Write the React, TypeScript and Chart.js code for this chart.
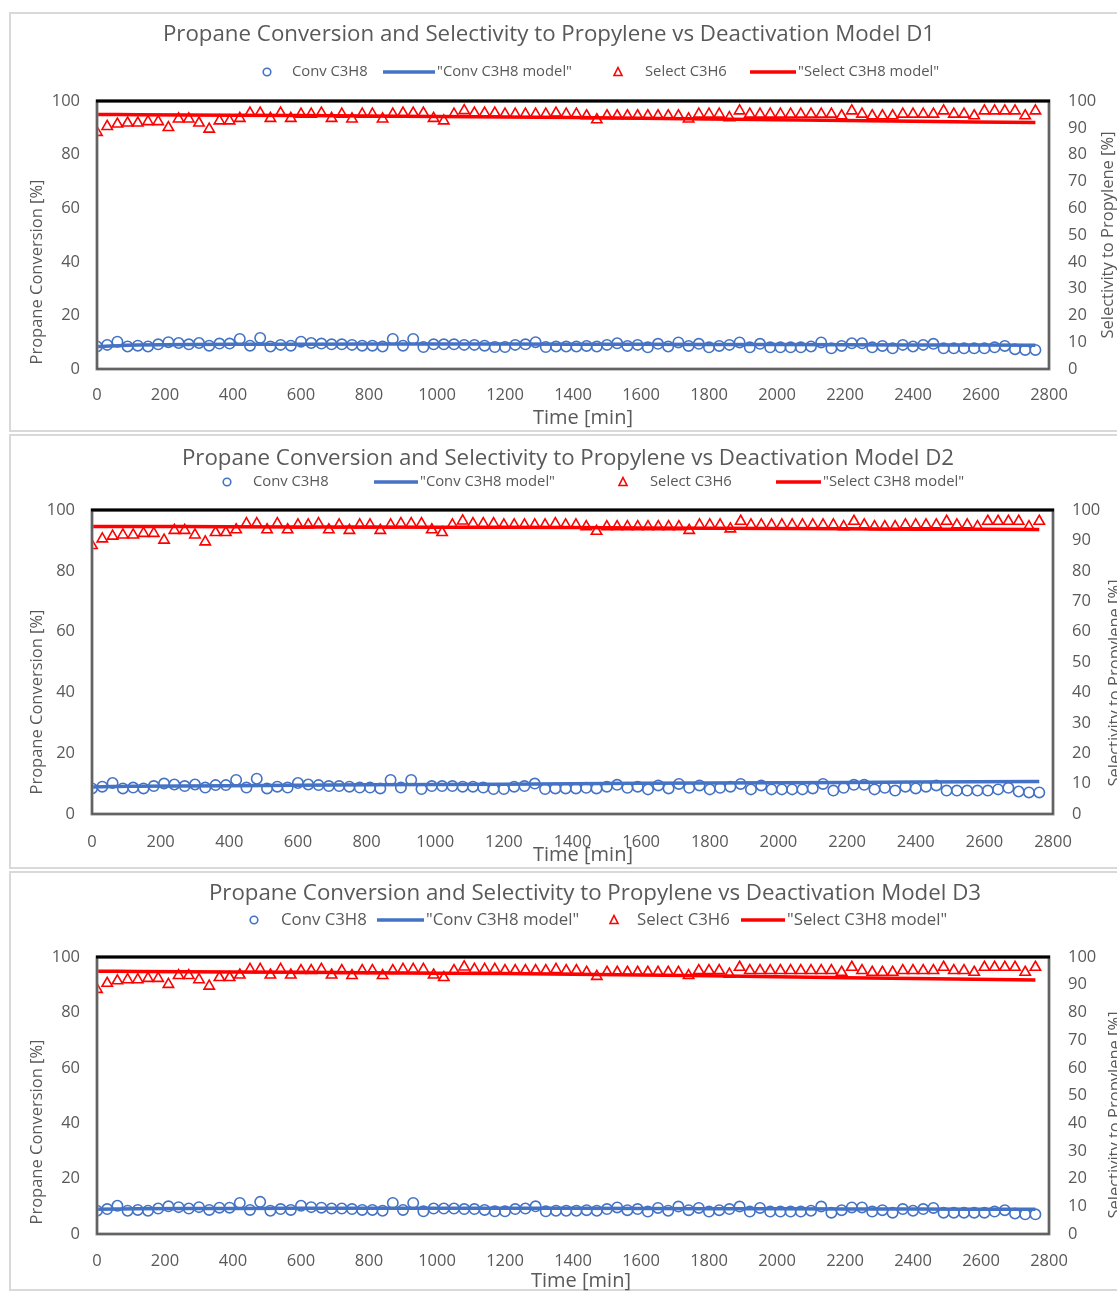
import React, { useEffect, useRef } from "react";
import { Chart, registerables } from "chart.js";

Chart.register(...registerables);

// ---------- DATA ----------
const timeMin = [
  0, 30, 60, 90, 120, 150, 180, 210, 240, 270, 300, 330, 360, 390, 420, 450, 480, 510, 540, 570,
  600, 630, 660, 690, 720, 750, 780, 810, 840, 870, 900, 930, 960, 990, 1020, 1050, 1080, 1110, 1140, 1170,
  1200, 1230, 1260, 1290, 1320, 1350, 1380, 1410, 1440, 1470, 1500, 1530, 1560, 1590, 1620, 1650, 1680, 1710, 1740, 1770,
  1800, 1830, 1860, 1890, 1920, 1950, 1980, 2010, 2040, 2070, 2100, 2130, 2160, 2190, 2220, 2250, 2280, 2310, 2340, 2370,
  2400, 2430, 2460, 2490, 2520, 2550, 2580, 2610, 2640, 2670, 2700, 2730, 2760,
];

const convC3H8 = [
  8.4, 9.0, 10.2, 8.4, 8.7, 8.4, 9.2, 10.0, 9.7, 9.2, 9.7, 8.7, 9.5, 9.5, 11.2, 8.7, 11.6, 8.4, 9.0, 8.7,
  10.2, 9.7, 9.5, 9.2, 9.2, 9.0, 8.7, 8.7, 8.4, 11.2, 8.7, 11.2, 8.2, 9.2, 9.2, 9.2, 9.0, 9.0, 8.7, 8.2,
  8.2, 9.0, 9.2, 10.0, 8.2, 8.4, 8.4, 8.4, 8.6, 8.4, 9.0, 9.6, 8.6, 9.0, 8.1, 9.4, 8.4, 9.9, 8.6, 9.4,
  8.1, 8.6, 9.0, 9.9, 8.1, 9.4, 8.1, 8.1, 8.1, 8.1, 8.4, 9.9, 7.7, 8.6, 9.6, 9.6, 8.1, 8.6, 7.7, 9.0,
  8.4, 9.0, 9.4, 7.7, 7.7, 7.7, 7.7, 7.7, 8.1, 8.6, 7.4, 7.1, 7.1,
];

const selectC3H6 = [
  88.3, 90.5, 91.4, 91.8, 91.8, 92.3, 92.3, 90.1, 93.3, 93.3, 91.8, 89.5, 92.6, 92.6, 93.5, 95.5, 95.5, 93.5, 95.5, 93.5,
  95.1, 95.1, 95.5, 93.5, 95.1, 93.3, 95.1, 95.1, 93.3, 95.1, 95.5, 95.5, 95.5, 93.5, 92.6, 95.1, 96.4, 95.5, 95.5, 95.5,
  95.1, 95.1, 95.1, 95.1, 95.1, 95.5, 95.1, 95.1, 94.5, 93.0, 94.5, 94.5, 94.5, 94.5, 94.5, 94.5, 94.5, 94.5, 93.3, 95.1,
  95.1, 95.1, 93.8, 96.3, 95.1, 95.1, 95.1, 95.1, 95.1, 95.1, 95.1, 95.1, 95.1, 94.5, 96.3, 95.1, 94.5, 94.5, 94.5, 95.1,
  95.1, 95.1, 95.1, 96.3, 95.1, 95.1, 94.5, 96.3, 96.3, 96.3, 96.3, 94.5, 96.3,
];

const modelTime = [0, 120, 400, 800, 1200, 1600, 2000, 2400, 2760];

const convModelD1 = [8.4, 9.0, 9.2, 9.3, 9.3, 9.2, 9.1, 9.0, 8.9];
const selectModelD1 = [95.0, 94.9, 94.7, 94.4, 94.0, 93.6, 93.0, 92.4, 92.0];

const convModelD2 = [8.9, 9.1, 9.3, 9.6, 9.8, 10.1, 10.3, 10.5, 10.7];
const selectModelD2 = [94.6, 94.6, 94.5, 94.4, 94.3, 94.1, 93.9, 93.7, 93.6];

const convModelD3 = [8.9, 9.1, 9.2, 9.3, 9.3, 9.2, 9.1, 9.0, 8.9];
const selectModelD3 = [94.9, 94.8, 94.6, 94.3, 94.0, 93.5, 92.9, 92.2, 91.7];

const chartTitles = [
  "Propane Conversion and Selectivity to Propylene vs Deactivation Model D1",
  "Propane Conversion and Selectivity to Propylene vs Deactivation Model D2",
  "Propane Conversion and Selectivity to Propylene vs Deactivation Model D3",
];

const legendLabels = ["Conv C3H8", '"Conv C3H8 model"', "Select C3H6", '"Select C3H8 model"'];
const xAxisTitle = "Time [min]";
const leftAxisTitle = "Propane Conversion [%]";
const rightAxisTitle = "Selectivity to Propylene [%]";

// ---------- STYLE / LAYOUT ----------
const BLUE = "#4472C4";
const RED = "#FF0000";
const TEXT = "#595959";
const FONT = "'Open Sans', 'DejaVu Sans', sans-serif";
const W = 1117;

type PanelCfg = {
  top: number;
  height: number;
  plot: { left: number; right: number; top: number; bottom: number };
  title: { x: number; y: number; size: number };
  legend: { y: number; size: number; circleX: number; convText: number; convLine: [number, number]; triX: number; selText: number; selLine: [number, number] };
  leftTitle: { x: number; y: number };
  rightTitle: { x: number; y: number };
  xTitle: { x: number; y: number };
  xTickPad: number;
};

const PANELS: PanelCfg[] = [
  {
    top: 13, height: 420,
    plot: { left: 97, right: 1049, top: 101, bottom: 369 },
    title: { x: 549, y: 35, size: 22.3 },
    legend: { y: 72, size: 14.8, circleX: 267, convText: 292, convLine: [383, 435], triX: 618, selText: 645, selLine: [750, 796] },
    leftTitle: { x: 37, y: 272 },
    rightTitle: { x: 1108, y: 235 },
    xTitle: { x: 583, y: 418 },
    xTickPad: 16,
  },
  {
    top: 435, height: 435,
    plot: { left: 92, right: 1053, top: 510, bottom: 814 },
    title: { x: 568, y: 459, size: 22.3 },
    legend: { y: 482, size: 14.8, circleX: 227, convText: 253, convLine: [374, 418], triX: 623, selText: 650, selLine: [776, 821] },
    leftTitle: { x: 37, y: 702 },
    rightTitle: { x: 1115, y: 683 },
    xTitle: { x: 583, y: 855 },
    xTickPad: 18,
  },
  {
    top: 872, height: 420,
    plot: { left: 97, right: 1049, top: 957, bottom: 1234 },
    title: { x: 595, y: 894, size: 22.3 },
    legend: { y: 920, size: 16.8, circleX: 254, convText: 281, convLine: [377, 424], triX: 614, selText: 637, selLine: [741, 785] },
    leftTitle: { x: 37, y: 1132 },
    rightTitle: { x: 1115, y: 1115 },
    xTitle: { x: 581, y: 1281 },
    xTickPad: 17,
  },
];

function makeDecorPlugin(cfg: PanelCfg, title: string) {
  const oy = (y: number) => y - cfg.top;
  return {
    id: "decor",
    afterDraw(chart: any) {
      const ctx: CanvasRenderingContext2D = chart.ctx;
      const { left, right, top, bottom } = chart.chartArea;
      ctx.save();
      // plot frame
      ctx.strokeStyle = "#8c8c8c";
      ctx.lineWidth = 3;
      ctx.strokeRect(left, top, right - left, bottom - top);
      ctx.strokeStyle = "#3a3a3a";
      ctx.lineWidth = 1;
      ctx.strokeRect(left, top, right - left, bottom - top);
      ctx.strokeStyle = "#000000";
      ctx.lineWidth = 3;
      ctx.beginPath();
      ctx.moveTo(left - 1, top);
      ctx.lineTo(right + 1, top);
      ctx.stroke();

      // title
      ctx.fillStyle = TEXT;
      ctx.textAlign = "center";
      ctx.textBaseline = "middle";
      ctx.font = `${cfg.title.size}px ${FONT}`;
      ctx.fillText(title, cfg.title.x, oy(cfg.title.y));

      // legend
      const lg = cfg.legend;
      const ly = oy(lg.y);
      ctx.font = `${lg.size}px ${FONT}`;
      ctx.textAlign = "left";
      ctx.lineWidth = 1.6;
      ctx.strokeStyle = BLUE;
      ctx.beginPath();
      ctx.arc(lg.circleX, ly, 3.8, 0, Math.PI * 2);
      ctx.stroke();
      ctx.fillText(legendLabels[0], lg.convText, ly);
      ctx.lineWidth = 3.5;
      ctx.beginPath();
      ctx.moveTo(lg.convLine[0], ly);
      ctx.lineTo(lg.convLine[1], ly);
      ctx.stroke();
      ctx.fillText(legendLabels[1], lg.convLine[1] + 2, ly);
      ctx.strokeStyle = RED;
      ctx.lineWidth = 1.6;
      ctx.beginPath();
      ctx.moveTo(lg.triX, ly - 4.5);
      ctx.lineTo(lg.triX + 4, ly + 3.5);
      ctx.lineTo(lg.triX - 4, ly + 3.5);
      ctx.closePath();
      ctx.stroke();
      ctx.fillText(legendLabels[2], lg.selText, ly);
      ctx.lineWidth = 3.5;
      ctx.beginPath();
      ctx.moveTo(lg.selLine[0], ly);
      ctx.lineTo(lg.selLine[1], ly);
      ctx.stroke();
      ctx.fillText(legendLabels[3], lg.selLine[1] + 2, ly);

      // axis titles
      ctx.textAlign = "center";
      ctx.font = `20px ${FONT}`;
      ctx.fillText(xAxisTitle, cfg.xTitle.x, oy(cfg.xTitle.y));
      ctx.font = `16.5px ${FONT}`;
      ctx.save();
      ctx.translate(cfg.leftTitle.x, oy(cfg.leftTitle.y));
      ctx.rotate(-Math.PI / 2);
      ctx.fillText(leftAxisTitle, 0, 0);
      ctx.restore();
      ctx.save();
      ctx.translate(cfg.rightTitle.x, oy(cfg.rightTitle.y));
      ctx.rotate(-Math.PI / 2);
      ctx.fillText(rightAxisTitle, 0, 0);
      ctx.restore();
      ctx.restore();
    },
  };
}

function PanelChart({ cfg, title, convModel, selectModel }: { cfg: PanelCfg; title: string; convModel: number[]; selectModel: number[] }) {
  const ref = useRef<HTMLCanvasElement | null>(null);
  useEffect(() => {
    if (!ref.current) return;
    const convPts = timeMin.map((t, i) => ({ x: t, y: convC3H8[i] }));
    const selPts = timeMin.map((t, i) => ({ x: t, y: selectC3H6[i] }));
    const convModelPts = modelTime.map((t, i) => ({ x: t, y: convModel[i] }));
    const selModelPts = modelTime.map((t, i) => ({ x: t, y: selectModel[i] }));
    const tickFont = { family: FONT, size: 16.5 };
    const plain = (v: any) => String(v);
    const chart = new Chart(ref.current, {
      type: "scatter",
      data: {
        datasets: [
          { type: "line", label: legendLabels[3], data: selModelPts, yAxisID: "y2", borderColor: RED, borderWidth: 3.5, pointRadius: 0, showLine: true, fill: false, tension: 0.3 } as any,
          { type: "line", label: legendLabels[1], data: convModelPts, yAxisID: "y", borderColor: BLUE, borderWidth: 3.5, pointRadius: 0, showLine: true, fill: false, tension: 0.3 } as any,
          { label: legendLabels[2], data: selPts, yAxisID: "y2", pointStyle: "triangle", pointRadius: 6, borderColor: RED, backgroundColor: "rgba(0,0,0,0)", borderWidth: 1.6 },
          { label: legendLabels[0], data: convPts, yAxisID: "y", pointStyle: "circle", pointRadius: 5.2, borderColor: BLUE, backgroundColor: "rgba(0,0,0,0)", borderWidth: 1.6 },
        ],
      },
      options: {
        responsive: false,
        animation: false,
        devicePixelRatio: 1,
        layout: { padding: { top: cfg.plot.top - cfg.top, left: 0, right: 0, bottom: 0 } },
        plugins: { legend: { display: false }, title: { display: false }, tooltip: { enabled: false } },
        scales: {
          x: {
            type: "linear", min: 0, max: 2800,
            grid: { display: false, drawTicks: false },
            border: { display: false },
            ticks: { stepSize: 200, autoSkip: false, maxRotation: 0, color: TEXT, font: tickFont, padding: cfg.xTickPad, callback: plain },
            afterFit: (s: any) => { s.height = cfg.height - (cfg.plot.bottom - cfg.top); },
          },
          y: {
            position: "left", min: 0, max: 100,
            grid: { display: false, drawTicks: false },
            border: { display: false },
            ticks: { stepSize: 20, color: TEXT, font: tickFont, padding: 17, callback: plain },
            afterFit: (s: any) => { s.width = cfg.plot.left; },
          },
          y2: {
            position: "right", min: 0, max: 100,
            grid: { display: false, drawTicks: false },
            border: { display: false },
            ticks: { stepSize: 10, color: TEXT, font: tickFont, padding: 19, callback: plain },
            afterFit: (s: any) => { s.width = W - cfg.plot.right; },
          },
        },
      },
      plugins: [makeDecorPlugin(cfg, title)],
    } as any);
    return () => chart.destroy();
  }, []);
  return (
    <canvas
      ref={ref}
      width={W}
      height={cfg.height}
      style={{ position: "absolute", left: 0, top: cfg.top, width: W, height: cfg.height, display: "block" }}
    />
  );
}

export default function App() {
  const models = [
    [convModelD1, selectModelD1],
    [convModelD2, selectModelD2],
    [convModelD3, selectModelD3],
  ];
  return (
    <div style={{ position: "absolute", left: 0, top: 0, width: W, height: 1292, background: "#ffffff", overflow: "hidden" }}>
      {PANELS.map((p, i) => (
        <div
          key={"b" + i}
          style={{ position: "absolute", left: 9, top: p.top - 1, width: 1200, height: p.height, border: "2px solid #d9d9d9", boxSizing: "border-box" }}
        />
      ))}
      {PANELS.map((p, i) => (
        <PanelChart key={i} cfg={p} title={chartTitles[i]} convModel={models[i][0]} selectModel={models[i][1]} />
      ))}
    </div>
  );
}
